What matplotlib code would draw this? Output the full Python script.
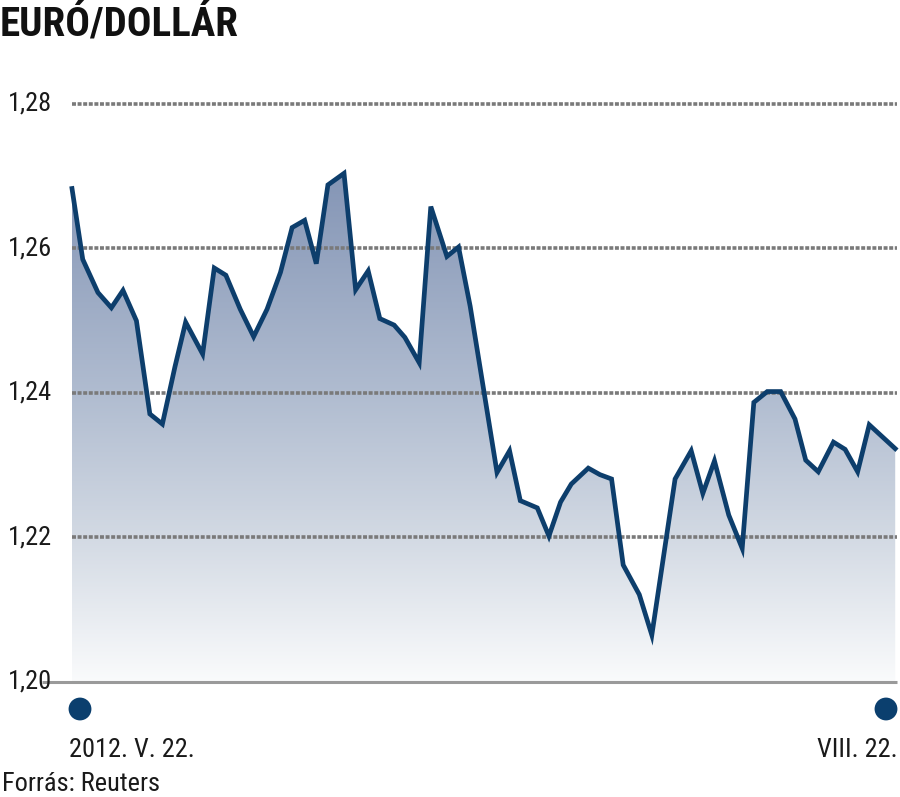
import matplotlib
matplotlib.use("Agg")
import matplotlib.pyplot as plt
import matplotlib.transforms as mtransforms
import numpy as np
from matplotlib.colors import LinearSegmentedColormap
from matplotlib import font_manager as fm

# ---- data ----
days = [0, 1.2, 2.9, 4.4, 5.7, 7.2, 8.7, 10.1, 11.5, 12.7, 14.6, 15.9, 17.2, 18.8,
        20.3, 21.8, 23.3, 24.6, 26.0, 27.3, 28.6, 30.4, 31.7, 33.1, 34.4, 36.0, 37.2,
        38.8, 40.1, 41.9, 43.2, 44.5, 47.5, 48.9, 50.1, 52.0, 53.3, 54.6, 55.8, 57.7,
        59.0, 60.3, 61.6, 63.4, 64.8, 67.4, 69.2, 70.5, 71.8, 73.4, 74.9, 76.2, 77.7,
        79.2, 80.8, 82.0, 83.4, 85.1, 86.4, 87.8, 89.1, 92.0]
rates = [1.2683, 1.2585, 1.2539, 1.2518, 1.2542, 1.2500, 1.2371, 1.2357, 1.2436, 1.2498,
         1.2454, 1.2573, 1.2563, 1.2516, 1.2478, 1.2516, 1.2567, 1.2629, 1.2639, 1.2579,
         1.2688, 1.2704, 1.2543, 1.2569, 1.2503, 1.2494, 1.2477, 1.2442, 1.2658, 1.2589,
         1.2602, 1.2520, 1.2290, 1.2320, 1.2251, 1.2241, 1.2202, 1.2249, 1.2274, 1.2296,
         1.2287, 1.2281, 1.2162, 1.2121, 1.2065, 1.2281, 1.2320, 1.2261, 1.2306, 1.2231,
         1.2185, 1.2387, 1.2402, 1.2402, 1.2364, 1.2307, 1.2291, 1.2332, 1.2322, 1.2291,
         1.2356, 1.2323]
y_ticks = [1.20, 1.22, 1.24, 1.26, 1.28]
y_tick_labels = ["1,20", "1,22", "1,24", "1,26", "1,28"]
title = "EURÓ/DOLLÁR"
start_label = "2012. V. 22."
end_label = "VIII. 22."
source = "Forrás: Reuters"

# ---- fonts ----
avail = {f.name for f in fm.fontManager.ttflist}
cands = ["Roboto Condensed", "Liberation Sans Narrow", "DejaVu Sans Condensed", "Open Sans Condensed"]
fam = [c for c in cands if c in avail] + ["DejaVu Sans"]
plt.rcParams["font.family"] = fam

W, H = 900, 797
fig = plt.figure(figsize=(W / 100, H / 100), dpi=100)
fig.patch.set_facecolor("white")

x0, x1 = 72, 897
ytop, ybot = 104, 682
ax = fig.add_axes([x0 / W, 1 - ybot / H, (x1 - x0) / W, (ybot - ytop) / H])
ax.set_xlim(0, 92.2)
ax.set_ylim(1.20, 1.28)
ax.axis("off")

# gradient fill
cmap = LinearSegmentedColormap.from_list(
    "g", [(0.0, "#fafbfc"), (0.29, "#d2d9e3"), (0.57, "#b0bcd0"), (1.0, "#8596b6")])
grad = np.linspace(0, 1, 256).reshape(-1, 1)
im = ax.imshow(grad, extent=[0, 92.2, 1.20, 1.27], origin="lower", aspect="auto",
               cmap=cmap, zorder=1)
poly = ax.fill_between(days, rates, 1.20, color="none", zorder=1)
im.set_clip_path(poly.get_paths()[0], transform=ax.transData)

# gridlines
for yv in y_ticks[1:]:
    ax.plot([0, 92.2], [yv, yv], color="#7a7a7a", lw=2.6,
            linestyle=(0, (1.1, 0.45)), zorder=2, clip_on=False)
# baseline
ax.plot([(42 - x0) / (x1 - x0), 1], [0, 0], transform=ax.transAxes,
        color="#9a9a9a", lw=2.2, zorder=3, clip_on=False, solid_capstyle="butt")

# line
ax.plot(days, rates, color="#0d3e6c", lw=3.4, zorder=4, solid_joinstyle="miter",
        clip_on=False)

# y tick labels
tr = mtransforms.blended_transform_factory(fig.transFigure, ax.transData)
for yv, lab in zip(y_ticks, y_tick_labels):
    ax.text(8 / W, yv, lab, transform=tr, ha="left", va="center",
            fontsize=19, color="#1a1a1a")

# end dots
ax.scatter([(80 - x0) / (x1 - x0), (886 - x0) / (x1 - x0)],
           [-(709 - ybot) / (ybot - ytop)] * 2, transform=ax.transAxes,
           s=270, color="#0b3f6e", zorder=5, clip_on=False, edgecolors="none")

fig.text(0 / W, 1 - 24 / H, title, fontsize=29.5, fontweight="bold",
         ha="left", va="center", color="#111111")
fig.text(69 / W, 1 - 750 / H, start_label, fontsize=19, ha="left", va="center",
         color="#1a1a1a")
fig.text(898 / W, 1 - 750 / H, end_label, fontsize=19, ha="right", va="center",
         color="#1a1a1a")
fig.text(2 / W, 1 - 784 / H, source, fontsize=19, ha="left", va="center",
         color="#1a1a1a")

fig.savefig("out.png", dpi=100, facecolor="white")
